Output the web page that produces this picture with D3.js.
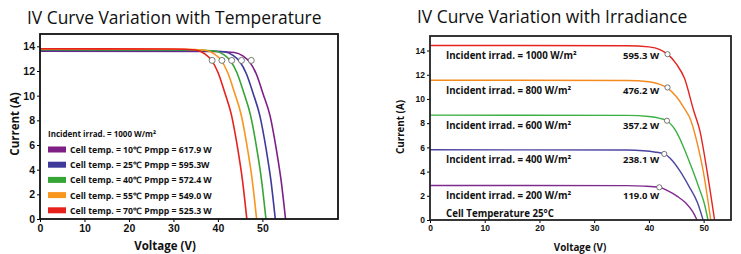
<!DOCTYPE html>
<html>
<head>
<meta charset="utf-8">
<script src="https://cdn.jsdelivr.net/npm/d3@7"></script>
<style>
  body{margin:0;background:#fff;}
  svg{font-family:"Open Sans",sans-serif;}
  .tick text{font-weight:700;fill:#111;}
</style>
</head>
<body>
<div id="chart"></div>
<script>
// ---- data ----
var voltTicksL=[0,10,20,30,40,50];
var voltTicksR=[0,10,20,30,40,50];
var currTicks=[0,2,4,6,8,10,12,14];

// left chart: temperature variation (V, I)
var curve10C=[[0,13.6],[38.7,13.58],[43.7,13.5],[45.7,13.2],[47.2,12.7],[48.7,11.7],[50.2,10.1],[51.7,8.4],[53.2,5.5],[54.2,3.15],[55.2,0]];
var curve25C=[[0,13.66],[36.4,13.64],[41.4,13.56],[43.4,13.27],[44.9,12.77],[46.4,11.78],[47.9,10.2],[49.4,8.42],[50.9,5.54],[51.9,3.17],[52.9,0]];
var curve40C=[[0,13.72],[34.3,13.7],[39.3,13.62],[41.3,13.33],[42.8,12.83],[44.3,11.84],[45.8,10.25],[47.3,8.46],[48.8,5.57],[49.8,3.18],[50.8,0]];
var curve55C=[[0,13.78],[32.2,13.76],[37.2,13.68],[39.2,13.38],[40.7,12.88],[42.2,11.88],[43.7,10.28],[45.2,8.49],[46.7,5.59],[47.7,3.2],[48.7,0]];
var curve70C=[[0,13.8],[30,13.78],[35,13.7],[37,13.4],[38.5,12.9],[40,11.9],[41.5,10.3],[43,8.5],[44.5,5.6],[45.5,3.2],[46.5,0]];
var tempLabels=["10℃","25℃","40℃","55℃","70℃"];
var tempPmpp=["617.9 W","595.3W","572.4 W","549.0 W","525.3 W"];
var tempMppV=[47.5,45.3,43.1,40.9,38.7];
var tempMppI=[12.86,12.86,12.86,12.86,12.86];

// right chart: irradiance variation (V, I)
var irr1000=[[0,14.42],[36,14.4],[40,14.3],[42,14.08],[43.4,13.7],[45,12.9],[46.5,11.7],[48.2,9.0],[49.3,7.4],[50.6,4.1],[52,0]];
var irr800=[[0,11.55],[36,11.53],[40,11.42],[42,11.2],[43.4,10.9],[45,10.2],[46.5,9.2],[47.6,8.3],[48.8,6.4],[49.9,4.1],[51.3,0]];
var irr600=[[0,8.66],[36,8.64],[40,8.55],[42,8.4],[43.3,8.2],[45,7.3],[46.8,5.5],[48,4.1],[49.2,2.6],[50.1,1.4],[50.8,0]];
var irr400=[[0,5.8],[36,5.78],[39,5.72],[41,5.62],[42.8,5.46],[44.3,4.9],[45.6,4.1],[47.3,2.8],[48.9,1.4],[49.9,0]];
var irr200=[[0,2.85],[36,2.84],[39,2.8],[41.9,2.7],[43.5,2.4],[45.2,1.95],[46.8,1.38],[48,0.7],[48.8,0]];
var irrLevels=[1000,800,600,400,200];
var irrPmpp=["595.3 W","476.2 W","357.2 W","238.1 W","119.0 W"];
var irrMppV=[43.4,43.4,43.3,42.8,41.9];
var irrMppI=[13.7,10.95,8.2,5.46,2.7];

var tempColors=["#7e1f86","#3d3a9c","#35a635","#f8961e","#e8211c"];
var irrColors=["#e5231f","#f58a1f","#3cb043","#4b45a2","#7e2a8e"];

var svg=d3.select("#chart").append("svg")
          .attr("width",741)
          .attr("height",254);

var line=function(x,y){
  return d3.line().x(function(d){return x(d[0])}).y(function(d){return y(d[1])}).curve(d3.curveMonotoneX);
};

// ================= left chart =================
var xL=d3.scaleLinear().domain([0,67]).range([40,338]);
var yL=d3.scaleLinear().domain([0,15]).range([219,34]);

svg.append("text")
   .attr("x",27).attr("y",24)
   .style("font-size","17.4px").style("font-weight",500).attr("fill","#111")
   .text("IV Curve Variation with Temperature");

var left=svg.append("g");
left.append("g")
    .attr("transform","translate(0,219)")
    .call(d3.axisBottom(xL).tickValues(voltTicksL).tickSize(3).tickPadding(3))
    .call(function(g){g.select(".domain").remove()})
    .selectAll("text").style("font-size","10.5px");
left.append("g")
    .attr("transform","translate(40,0)")
    .call(d3.axisLeft(yL).tickValues(currTicks).tickSize(3).tickPadding(2))
    .call(function(g){g.select(".domain").remove()})
    .selectAll("text").style("font-size","10.5px");

var tempCurves=[curve10C,curve25C,curve40C,curve55C,curve70C];
left.selectAll("path.curve")
    .data(tempCurves)
    .enter()
    .append("path")
    .attr("class","curve")
    .attr("d",line(xL,yL))
    .attr("fill","none")
    .attr("stroke",function(d,i){return tempColors[i]})
    .attr("stroke-width",1.6);

left.selectAll("circle")
    .data(tempMppV)
    .enter()
    .append("circle")
    .attr("cx",function(d){return xL(d)})
    .attr("cy",function(d,i){return yL(tempMppI[i])})
    .attr("r",3)
    .attr("fill","#fff")
    .attr("stroke","#555")
    .attr("stroke-width",0.8);

left.append("rect")
    .attr("x",40).attr("y",34)
    .attr("width",298).attr("height",185)
    .attr("fill","none").attr("stroke","#111").attr("stroke-width",1.8);

// legend
left.append("text")
    .attr("x",48).attr("y",137)
    .style("font-size","8px").style("font-weight",700).attr("fill","#111")
    .text("Incident irrad. = 1000 W/m²");
var leg=left.selectAll("g.leg")
    .data(tempLabels)
    .enter()
    .append("g")
    .attr("class","leg")
    .attr("transform",function(d,i){return "translate(48,"+(149.5+i*15.2)+")"});
leg.append("rect")
   .attr("x",0).attr("y",-3).attr("width",18).attr("height",6)
   .attr("fill",function(d,i){return tempColors[i]});
leg.append("text")
   .attr("x",22).attr("y",3.5)
   .style("font-size","8.7px").style("font-weight",700).attr("fill","#111")
   .text(function(d,i){return "Cell temp. = "+d+" Pmpp = "+tempPmpp[i]});

svg.append("text")
   .attr("x",165).attr("y",250)
   .attr("text-anchor","middle")
   .style("font-size","11.5px").style("font-weight",700).attr("fill","#111")
   .text("Voltage (V)");
svg.append("text")
   .attr("transform","translate(19,124) rotate(-90)")
   .attr("text-anchor","middle")
   .style("font-size","11.5px").style("font-weight",700).attr("fill","#111")
   .text("Current (A)");

// ================= right chart =================
var xR=d3.scaleLinear().domain([0,55]).range([430,731]);
var yR=d3.scaleLinear().domain([0,15.2]).range([220,36]);

svg.append("text")
   .attr("x",417).attr("y",23)
   .style("font-size","17.4px").style("font-weight",500).attr("fill","#111")
   .text("IV Curve Variation with Irradiance");

var right=svg.append("g");
right.append("g")
     .attr("transform","translate(0,220)")
     .call(d3.axisBottom(xR).tickValues(voltTicksR).tickSize(3).tickPadding(2))
     .call(function(g){g.select(".domain").remove()})
     .selectAll("text").style("font-size","8.5px");
right.append("g")
     .attr("transform","translate(430,0)")
     .call(d3.axisLeft(yR).tickValues(currTicks).tickSize(3).tickPadding(2))
     .call(function(g){g.select(".domain").remove()})
     .selectAll("text").style("font-size","8.5px");

var irrCurves=[irr1000,irr800,irr600,irr400,irr200];
right.selectAll("path.curve")
     .data(irrCurves)
     .enter()
     .append("path")
     .attr("class","curve")
     .attr("d",line(xR,yR))
     .attr("fill","none")
     .attr("stroke",function(d,i){return irrColors[i]})
     .attr("stroke-width",1.4);

right.selectAll("circle")
     .data(irrMppV)
     .enter()
     .append("circle")
     .attr("cx",function(d){return xR(d)})
     .attr("cy",function(d,i){return yR(irrMppI[i])})
     .attr("r",2.6)
     .attr("fill","#fff")
     .attr("stroke","#555")
     .attr("stroke-width",0.8);

right.selectAll("text.irr")
     .data(irrLevels)
     .enter()
     .append("text")
     .attr("class","irr")
     .attr("x",446)
     .attr("y",function(d,i){return yR(irrCurves[i][0][1])+13.5})
     .style("font-size","9.7px").style("font-weight",700).attr("fill","#111")
     .text(function(d){return "Incident irrad. = "+d+" W/m²"});
right.selectAll("text.pw")
     .data(irrPmpp)
     .enter()
     .append("text")
     .attr("class","pw")
     .attr("x",623)
     .attr("y",function(d,i){return yR(irrCurves[i][0][1])+13.5})
     .style("font-size","9.5px").style("font-weight",700).attr("fill","#111")
     .text(function(d){return d});
right.append("text")
     .attr("x",446).attr("y",216.5)
     .style("font-size","9.7px").style("font-weight",700).attr("fill","#111")
     .text("Cell Temperature 25°C");

right.append("rect")
     .attr("x",430).attr("y",36)
     .attr("width",301).attr("height",184)
     .attr("fill","none").attr("stroke","#222").attr("stroke-width",1.8);

svg.append("text")
   .attr("x",580).attr("y",251)
   .attr("text-anchor","middle")
   .style("font-size","9.8px").style("font-weight",700).attr("fill","#111")
   .text("Voltage (V)");
svg.append("text")
   .attr("transform","translate(404,127) rotate(-90)")
   .attr("text-anchor","middle")
   .style("font-size","9.8px").style("font-weight",700).attr("fill","#111")
   .text("Current (A)");
</script>
</body>
</html>
